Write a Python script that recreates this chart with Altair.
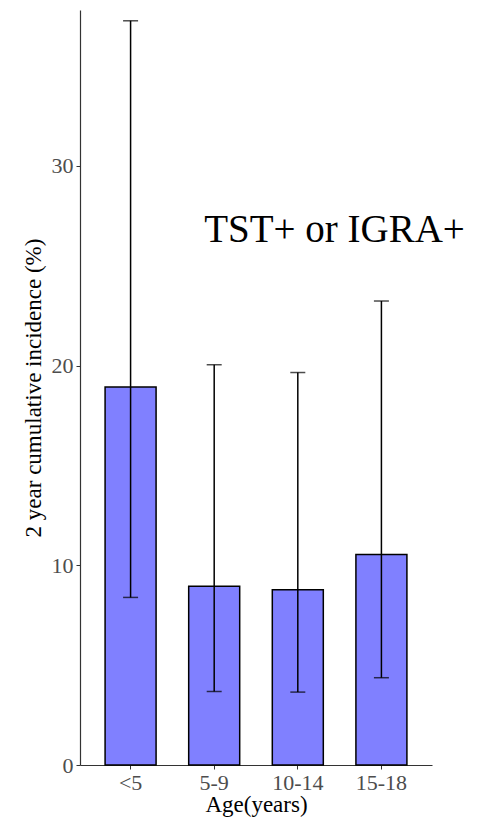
import altair as alt
import pandas as pd

ages = ["<5", "5-9", "10-14", "15-18"]
incidence = [18.93, 8.95, 8.78, 10.54]
lower = [8.39, 3.68, 3.65, 4.37]
upper = [37.26, 20.04, 19.65, 23.23]
y_ticks = [0, 10, 20, 30]
annotation = ["TST+ or IGRA+"]

df = pd.DataFrame({"age": ages, "inc": incidence, "lo": lower, "hi": upper})
ann = pd.DataFrame({"age": ["5-9"], "y": [26.2], "label": annotation})

FONT = "Liberation Serif"

x_enc = alt.X(
    "age:N",
    sort=ages,
    scale=alt.Scale(paddingInner=0.39, paddingOuter=0.3),
    axis=alt.Axis(
        title="Age(years)",
        labelAngle=0,
        labelFont=FONT,
        labelFontSize=22,
        labelColor="#4d4d4d",
        labelPadding=3,
        titleFont=FONT,
        titleFontSize=23,
        titleFontWeight="normal",
        titleColor="black",
        titlePadding=0,
        domainColor="#333333",
        domainWidth=1.2,
        tickColor="#333333",
        tickSize=4,
    ),
)

y_scale = alt.Scale(domain=[0, 37.8], nice=False, zero=True)

bars = alt.Chart(df).mark_bar(
    color="#8080FF", stroke="black", strokeWidth=1.5
).encode(
    x=x_enc,
    y=alt.Y(
        "inc:Q",
        scale=y_scale,
        axis=alt.Axis(
            title="2 year cumulative incidence (%)",
            values=y_ticks,
            grid=False,
            labelFont=FONT,
            labelFontSize=22,
            labelColor="#4d4d4d",
            labelPadding=3,
            titleFont=FONT,
            titleFontSize=23,
            titleFontWeight="normal",
            titleColor="black",
            titlePadding=6,
            domainColor="#333333",
            domainWidth=1.2,
            tickColor="#333333",
            tickSize=4,
        ),
    ),
)

rules = alt.Chart(df).mark_rule(color="black", strokeWidth=1.5).encode(
    x=alt.X("age:N", sort=ages),
    y=alt.Y("lo:Q", scale=y_scale),
    y2="hi:Q",
)

caps_hi = alt.Chart(df).mark_tick(color="black", thickness=1.5, size=15).encode(
    x=alt.X("age:N", sort=ages),
    y=alt.Y("hi:Q", scale=y_scale),
)
caps_lo = alt.Chart(df).mark_tick(color="black", thickness=1.5, size=15).encode(
    x=alt.X("age:N", sort=ages),
    y=alt.Y("lo:Q", scale=y_scale),
)

text = alt.Chart(ann).mark_text(
    font=FONT, fontSize=39, align="left", baseline="alphabetic", dx=-10, color="black"
).encode(
    x=alt.X("age:N", sort=ages),
    y=alt.Y("y:Q", scale=y_scale),
    text="label:N",
)

chart = alt.layer(bars, rules, caps_hi, caps_lo, text).properties(
    width=352,
    height=755,
    background="white",
    autosize=alt.AutoSizeParams(type="none"),
    padding={"left": 72, "top": 2, "right": 37, "bottom": 60},
).configure_view(stroke=None)

chart.save("out.html", embed_options={"renderer": "svg", "actions": False})
